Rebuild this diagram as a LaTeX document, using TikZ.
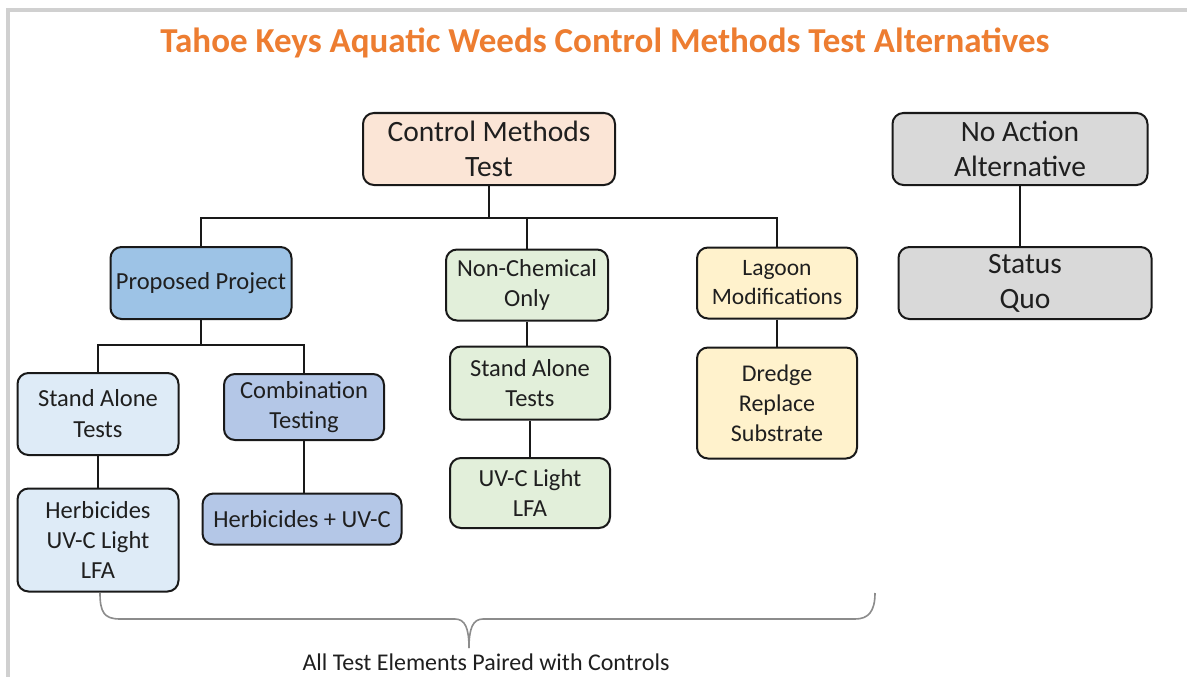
\documentclass[tikz,border=0pt]{standalone}
\usepackage{fontspec}
\setmainfont{Carlito}
\definecolor{ttl}{HTML}{ED7D31}
\definecolor{peach}{HTML}{FBE5D6}
\definecolor{gry}{HTML}{D9D9D9}
\definecolor{blu}{HTML}{9DC3E6}
\definecolor{lblu}{HTML}{DEEBF7}
\definecolor{mblu}{HTML}{B4C7E7}
\definecolor{lgrn}{HTML}{E2EFDA}
\definecolor{ylw}{HTML}{FFF2CC}
\definecolor{txt}{HTML}{1F1F1F}
\definecolor{frame}{HTML}{D0D0D0}
\definecolor{brc}{HTML}{8C8C8C}
\tikzset{
  bx/.style={draw=black!90, line width=2pt, rounded corners=11pt, align=center, text=txt, inner sep=0pt},
  con/.style={draw=black!90, line width=2pt},
}
\begin{document}
\begin{tikzpicture}[x=1pt,y=-1pt]
\useasboundingbox (0,0) rectangle (1187,677);
\fill[white] (0,0) rectangle (1187,677);
\draw[frame, line width=4pt] (8,677) -- (8,10) -- (1187,10);
\node[text=ttl, font=\fontsize{35}{40}\selectfont\bfseries] (title) at (605,43) {Tahoe Keys Aquatic Weeds Control Methods Test Alternatives};
% top level
\node[bx, fill=peach, minimum width=252pt, minimum height=72pt, font=\fontsize{29.5}{35}\selectfont] (cmt) at (489,149) {Control Methods\\Test};
\node[bx, fill=gry, minimum width=255pt, minimum height=72pt, font=\fontsize{29.5}{35}\selectfont] (na) at (1020,149) {No Action\\Alternative};
\node[bx, fill=gry, minimum width=253pt, minimum height=72pt, font=\fontsize{29.5}{35}\selectfont] (sq) at (1025,283) {Status\\Quo};
% second level
\node[bx, fill=blu, minimum width=181pt, minimum height=72pt, font=\fontsize{24.5}{30}\selectfont] (pp) at (201,283) {Proposed Project};
\node[bx, fill=lgrn, minimum width=162pt, minimum height=71pt, font=\fontsize{24.5}{30}\selectfont] (nc) at (527,285) {Non-Chemical\\Only};
\node[bx, fill=ylw, minimum width=160pt, minimum height=71pt, font=\fontsize{23.5}{29}\selectfont] (lm) at (777,283) {Lagoon\\Modifications};
% third level
\node[bx, fill=lblu, minimum width=161pt, minimum height=82pt, font=\fontsize{24.5}{31}\selectfont] (sa1) at (98,414) {Stand Alone\\Tests};
\node[bx, fill=mblu, minimum width=160pt, minimum height=66pt, font=\fontsize{24.5}{30}\selectfont] (ct) at (304,407) {Combination\\Testing};
\node[bx, fill=lgrn, minimum width=160pt, minimum height=73pt, font=\fontsize{24.5}{30}\selectfont] (sa2) at (530,383) {Stand Alone\\Tests};
\node[bx, fill=ylw, minimum width=160pt, minimum height=111pt, font=\fontsize{24}{30}\selectfont] (dr) at (777,403) {Dredge\\Replace\\Substrate};
% fourth level
\node[bx, fill=lblu, minimum width=161pt, minimum height=103pt, font=\fontsize{24.5}{30}\selectfont] (h1) at (98,540) {Herbicides\\UV-C Light\\LFA};
\node[bx, fill=mblu, minimum width=199pt, minimum height=51pt, font=\fontsize{24.5}{30}\selectfont] (hu) at (302,519) {Herbicides + UV-C};
\node[bx, fill=lgrn, minimum width=160pt, minimum height=70pt, font=\fontsize{24.5}{30}\selectfont] (uv) at (530,493) {UV-C Light\\LFA};
% connectors
\coordinate (j1) at (489,218);
\draw[con] (cmt.south) -- (j1);
\draw[con] (pp.north) |- (j1) -| (lm.north);
\draw[con] (nc.north) -- (nc.north |- j1);
\draw[con] (na.south) -- (na.south |- sq.north);
\coordinate (j2) at (201,345);
\draw[con] (pp.south) -- (j2);
\draw[con] (sa1.north) |- (j2) -| (ct.north);
\draw[con] (sa1.south) -- (h1.north);
\draw[con] (ct.south) -- (ct.south |- hu.north);
\draw[con] (nc.south) -- (nc.south |- sa2.north);
\draw[con] (sa2.south) -- (uv.north);
\draw[con] (lm.south) -- (lm.south |- dr.north);
% brace
\coordinate (bl) at (100,593);
\coordinate (br) at (875,593);
\coordinate (bt) at (469,648);
\draw[brc, line width=1.6pt] (bl) .. controls (100,612) and (104,619) .. (120,619) -- (455,619) .. controls (465,619) and (469,628) .. (bt);
\draw[brc, line width=1.6pt] (bt) .. controls (469,628) and (473,619) .. (483,619) -- (855,619) .. controls (868,619) and (875,612) .. (br);
\node[text=txt, font=\fontsize{24}{28}\selectfont] (lbl) at (486,662) {All Test Elements Paired with Controls};
\end{tikzpicture}
\end{document}
